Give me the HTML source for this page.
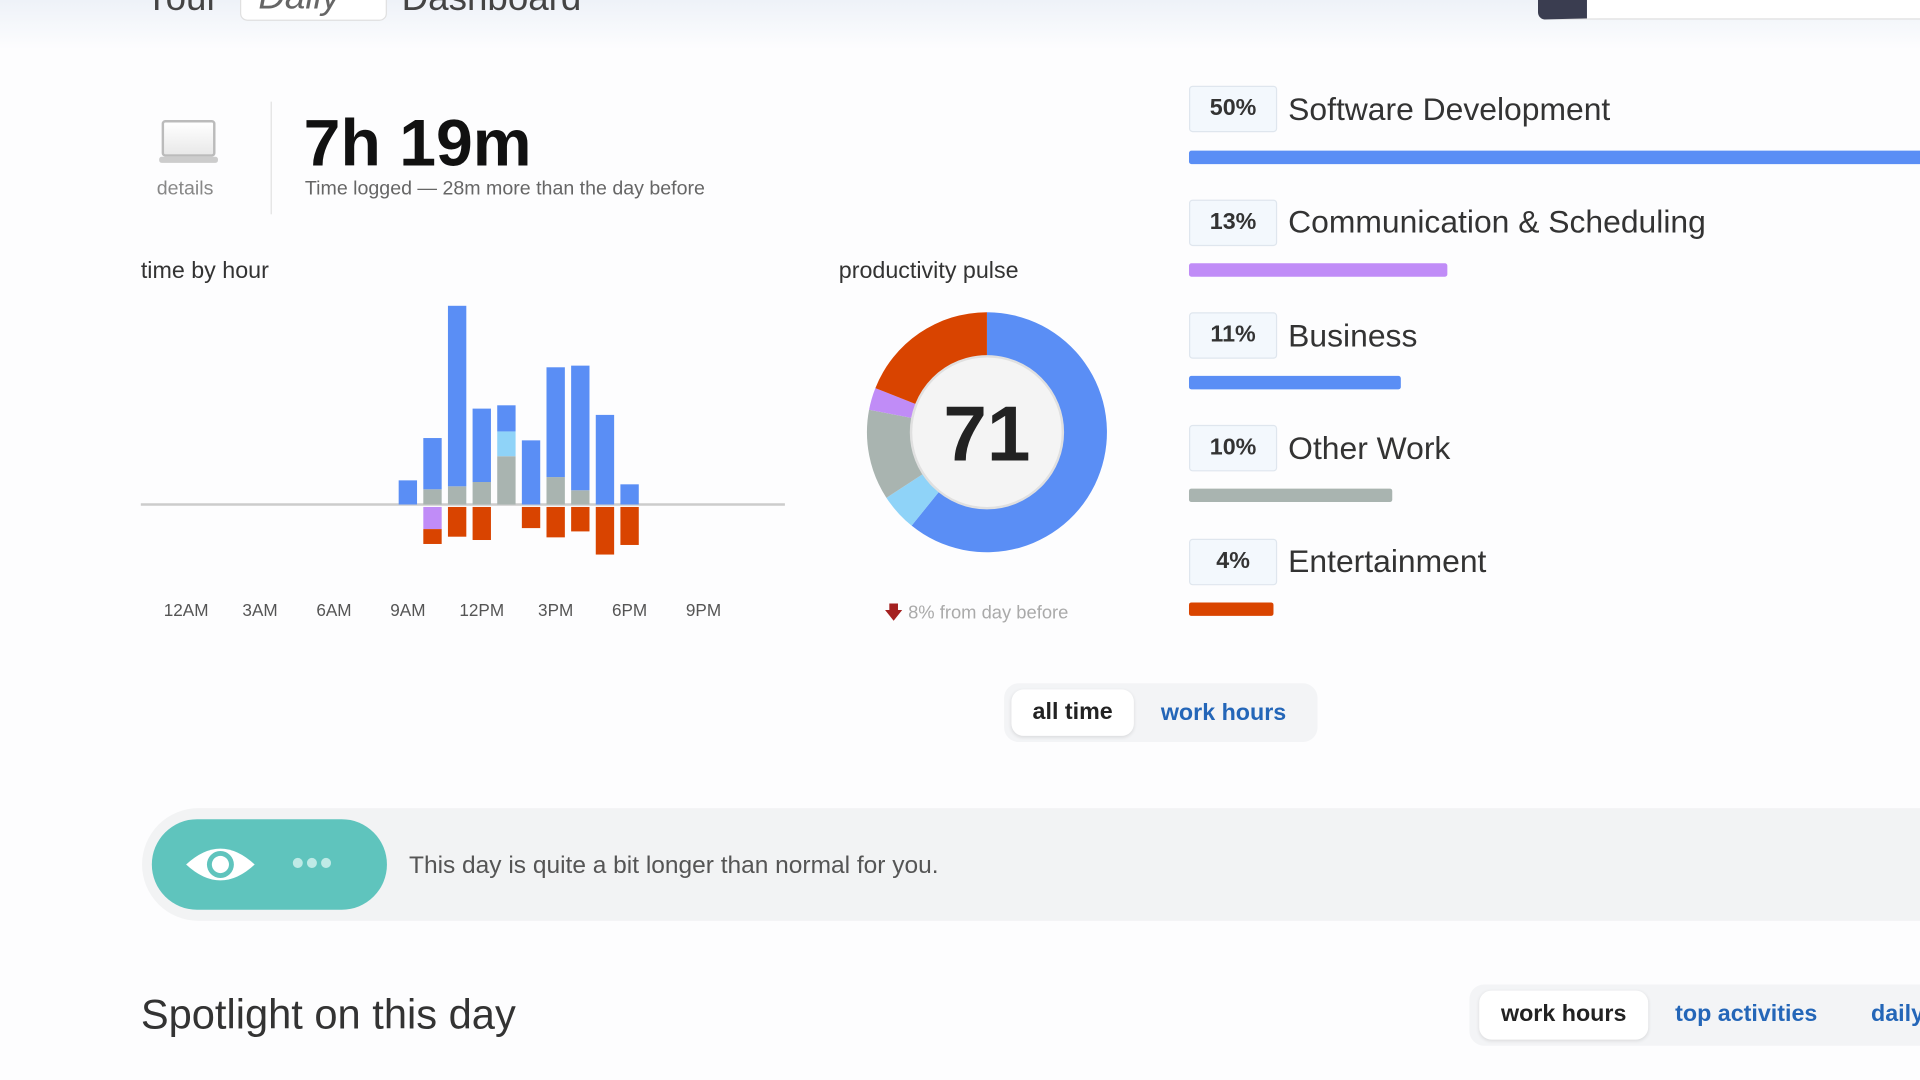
<!DOCTYPE html>
<html><head><meta charset="utf-8">
<style>
html,body{margin:0;padding:0;width:1920px;height:1080px;overflow:hidden;background:#fdfdfe;font-family:"Liberation Sans",sans-serif;}
#wrap{position:absolute;left:0;top:0;width:1568px;height:882px;transform:scale(1.2245);transform-origin:0 0;}
.abs{position:absolute;}
.pct{position:absolute;left:971px;width:70px;height:36px;border:1px solid #dfe6ee;background:#f3f8fd;border-radius:3px;font-size:19px;font-weight:bold;color:#333;text-align:center;line-height:36px;}
.cat{position:absolute;left:1052px;font-size:26px;color:#333;}
.bar{position:absolute;left:971px;height:11px;border-radius:2px;}
</style></head><body>
<div id="wrap">
<div class="abs" style="left:0;top:0;width:1568px;height:40px;background:linear-gradient(#eef2f8,#fdfdfe);"></div>
<div class="abs" style="left:118px;top:-18px;font-size:30px;color:#444;">Your</div>
<div class="abs" style="left:196px;top:-20px;width:120px;height:37px;border:1px solid #e0e0e0;border-radius:6px;background:#fff;font-size:30px;color:#666;font-style:italic;padding-left:14px;box-sizing:border-box;">Daily</div>
<div class="abs" style="left:328px;top:-18px;font-size:30px;color:#444;">Dashboard</div>
<div class="abs" style="left:1256px;top:-20px;width:340px;height:34px;border-radius:6px;background:#fff;border:1px solid #ddd;border-left:40px solid #3a3d50;"></div>

<div class="abs" style="left:132px;top:98px;width:44px;height:30px;border:2px solid #bbb;border-radius:3px;background:linear-gradient(#fff,#e8e8e8);box-sizing:border-box;"></div>
<div class="abs" style="left:130px;top:128px;width:48px;height:5px;background:#ccc;border-radius:2px;"></div>
<div class="abs" style="left:128px;top:146px;font-size:16px;color:#888;">details</div>
<div class="abs" style="left:221px;top:83px;width:1px;height:92px;background:#e2e2e2;"></div>
<div class="abs" style="left:248px;top:86px;font-size:54px;font-weight:bold;color:#111;">7h 19m</div>
<div class="abs" style="left:249px;top:146px;font-size:16px;color:#666;">Time logged — 28m more than the day before</div>

<div class="abs" style="left:115px;top:211px;font-size:19px;color:#333;">time by hour</div>
<svg class="abs" id="hourchart" style="left:100px;top:230px;" width="560" height="290"></svg>

<div class="abs" style="left:685px;top:211px;font-size:19px;color:#333;">productivity pulse</div>
<svg class="abs" id="donut" style="left:700px;top:247px;" width="212" height="212"></svg>
<div class="abs" style="left:722px;top:490px;font-size:15px;color:#aaa;"><span style="color:#a42020;">🡇</span> 8% from day before</div>

<div class="pct" style="top:70px;">50%</div>
<div class="cat" style="top:74px;">Software Development</div>
<div class="bar" style="top:123px;width:600px;background:#5a8ef5;"></div>
<div class="pct" style="top:163px;">13%</div>
<div class="cat" style="top:166px;">Communication &amp; Scheduling</div>
<div class="bar" style="top:215px;width:211px;background:#c08cf7;"></div>
<div class="pct" style="top:255px;">11%</div>
<div class="cat" style="top:259px;">Business</div>
<div class="bar" style="top:307px;width:173px;background:#5a8ef5;"></div>
<div class="pct" style="top:347px;">10%</div>
<div class="cat" style="top:351px;">Other Work</div>
<div class="bar" style="top:399px;width:166px;background:#a9b4b0;"></div>
<div class="pct" style="top:440px;">4%</div>
<div class="cat" style="top:443px;">Entertainment</div>
<div class="bar" style="top:492px;width:69px;background:#d94400;"></div>

<div class="abs" style="left:820px;top:558px;width:256px;height:48px;border-radius:12px;background:#f3f4f6;"></div>
<div class="abs" style="left:826px;top:563px;width:100px;height:38px;border-radius:10px;background:#fff;box-shadow:0 1px 3px rgba(0,0,0,.1);font-size:19px;font-weight:bold;color:#222;text-align:center;line-height:38px;">all time</div>
<div class="abs" style="left:948px;top:572px;font-size:19px;font-weight:bold;color:#2466b8;">work hours</div>

<div class="abs" style="left:116px;top:660px;width:1460px;height:92px;border-radius:46px 0 0 46px;background:#f2f3f4;"></div>
<div class="abs" style="left:124px;top:669px;width:192px;height:74px;border-radius:37px;background:#5fc4bd;"></div>
<svg class="abs" style="left:150px;top:686px;" width="60" height="40"><path d="M2 20 Q30 -6 58 20 Q30 46 2 20Z" fill="#fff"/><circle cx="30" cy="20" r="11" fill="#5fc4bd"/><circle cx="30" cy="20" r="7" fill="#fff"/></svg>
<div class="abs" style="left:238px;top:699px;font-size:30px;line-height:14px;color:#bfeae6;letter-spacing:1px;">•••</div>
<div class="abs" style="left:334px;top:696px;font-size:20px;color:#555;">This day is quite a bit longer than normal for you.</div>

<div class="abs" style="left:115px;top:810px;font-size:34px;color:#333;">Spotlight on this day</div>
<div class="abs" style="left:1200px;top:804px;width:400px;height:50px;border-radius:12px;background:#f3f4f6;"></div>
<div class="abs" style="left:1208px;top:809px;width:138px;height:40px;border-radius:10px;background:#fff;box-shadow:0 1px 3px rgba(0,0,0,.1);font-size:19px;font-weight:bold;color:#222;text-align:center;line-height:40px;">work hours</div>
<div class="abs" style="left:1368px;top:818px;font-size:19px;font-weight:bold;color:#2466b8;">top activities</div>
<div class="abs" style="left:1528px;top:818px;font-size:19px;font-weight:bold;color:#2466b8;">daily</div>
</div>

<script>
const hours = [9,10,11,12,13,14,15,16,17,18];
const otherWork = [0,4.6,5.5,6.8,14.6,0,8.3,4.3,0,0];
const lightBlue = [0,0,0,0,7.5,0,0,0,0,0];
const productive = [7.3,15.5,54.6,22.2,7.9,19.4,33.2,37.7,27.1,6.1];
const communication = [0,6.7,0,0,0,0,0,0,0,0];
const distracting = [0,4.5,9,10,0,6.4,9.2,7.4,14.4,11.5];
const tickLabels = ['12AM','3AM','6AM','9AM','12PM','3PM','6PM','9PM'];
const tickHours = [0,3,6,9,12,15,18,21];
const pulseLabels = ['productive','neutral-light','other','communication','distracting'];
const pulseValues = [60.8,5,12.2,3,19];
const pulseColors = ['#5a8ef5','#8fd3f8','#a9b4b0','#c08cf7','#d94400'];

const NS='http://www.w3.org/2000/svg';
const svg=document.getElementById('hourchart');
const ox=100, oy=230;
const xS=h=>152+h*20.12-ox;
const yBase=412-oy;
const yS=v=>v*2.70;
function mk(t,a){const e=document.createElementNS(NS,t);for(const k in a)e.setAttribute(k,a[k]);return e;}
const base=mk('line',{x1:115-ox,x2:641-ox,y1:yBase,y2:yBase,stroke:'#ccc','stroke-width':2});


svg.appendChild(base);
tickHours.forEach((h,i)=>{
  const t=mk('text',{x:xS(h),y:498-oy+5,'text-anchor':'middle','font-size':14,fill:'#555','font-family':'Liberation Sans, sans-serif'});
  t.textContent=tickLabels[i];
  
  
  svg.appendChild(t);
});
hours.forEach((h,i)=>{
  let y=yBase;
  [[otherWork,'#a9b4b0'],[lightBlue,'#8fd3f8'],[productive,'#5a8ef5']].forEach(([arr,c])=>{
    const hh=yS(arr[i]); if(!hh)return;
    y-=hh;
    const r=mk('rect',{x:xS(h)-7.5,y:y,width:15,height:hh,fill:c});
    
    
    svg.appendChild(r);
  });
  y=yBase+2;
  [[communication,'#c08cf7'],[distracting,'#d94400']].forEach(([arr,c])=>{
    const hh=yS(arr[i]); if(!hh)return;
    const r=mk('rect',{x:xS(h)-7.5,y:y,width:15,height:hh,fill:c});
    
    
    svg.appendChild(r);
    y+=hh;
  });
});

const d=document.getElementById('donut');
const cx=106,cy=106,R=98;
const tot=pulseValues.reduce((a,b)=>a+b,0);
let a0=0;
pulseValues.forEach((v,i)=>{
  const a1=a0+v/tot*Math.PI*2;
  const p=(a)=>[cx+R*Math.sin(a),cy-R*Math.cos(a)];
  const [x0,y0]=p(a0),[x1,y1]=p(a1);
  const large=(a1-a0)>Math.PI?1:0;
  const s=mk('path',{d:`M${cx},${cy} L${x0},${y0} A${R},${R} 0 ${large} 1 ${x1},${y1} Z`,fill:pulseColors[i]});
  
  
  d.appendChild(s);
  a0=a1;
});
const inner=mk('circle',{cx:cx,cy:cy,r:62,fill:'#f4f4f4',stroke:'#e0e0e0','stroke-width':2});


d.appendChild(inner);
const sc=mk('text',{x:cx,y:cy+23,'text-anchor':'middle','font-size':64,'font-weight':'bold',fill:'#222','font-family':'Liberation Sans, sans-serif'});
sc.textContent='71';


d.appendChild(sc);
</script>
</body></html>
